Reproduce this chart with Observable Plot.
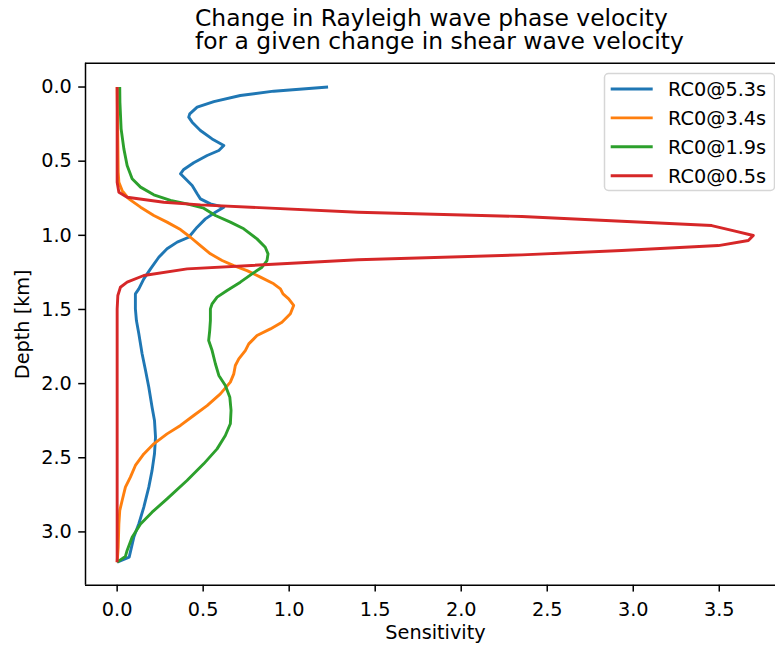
<!DOCTYPE html>
<html>
<head>
<meta charset="utf-8">
<script src="https://cdn.jsdelivr.net/npm/d3@7"></script>
<script src="https://cdn.jsdelivr.net/npm/@observablehq/plot@0.6"></script>
<style>
  html, body { margin: 0; padding: 0; background: #fff; overflow: hidden; }
  #wrap { position: relative; width: 775px; height: 648px; overflow: hidden; }
  #title { position: absolute; left: 195px; top: 6.5px; font-family: "DejaVu Sans"; font-size: 23.4px; line-height: 23px; white-space: pre; color: #000; }
  #chart { position: absolute; left: 0; top: 0; }
  #legend { position: absolute; left: 0; top: 0; }
</style>
</head>
<body>
<div id="wrap">
  <div id="chart"></div>
  <div id="title"></div>
  <div id="legend"></div>
</div>
<script>
// ---- data ----
const titleLines = ["Change in Rayleigh wave phase velocity", "for a given change in shear wave velocity"];
const xLabel = "Sensitivity";
const yLabel = "Depth [km]";
const seriesNames = ["RC0@5.3s", "RC0@3.4s", "RC0@1.9s", "RC0@0.5s"];
const seriesColors = ["#1f77b4", "#ff7f0e", "#2ca02c", "#d62728"];
const xTicks = [0, 0.5, 1.0, 1.5, 2.0, 2.5, 3.0, 3.5];
const yTicks = [0, 0.5, 1.0, 1.5, 2.0, 2.5, 3.0];

// RC0@5.3s
const depth53 = [0.0, 0.028, 0.057, 0.098, 0.136, 0.181, 0.203, 0.237, 0.293, 0.350, 0.394, 0.428, 0.462, 0.511, 0.556, 0.585, 0.619, 0.664, 0.720, 0.754, 0.788, 0.810, 0.844, 0.889, 0.945, 1.013, 1.046, 1.091, 1.148, 1.226, 1.294, 1.361, 1.395, 1.496, 1.575, 1.664, 1.799, 1.911, 2.024, 2.159, 2.248, 2.361, 2.473, 2.585, 2.698, 2.833, 2.945, 3.035, 3.170, 3.204];
const sens53  = [1.226, 0.910, 0.716, 0.562, 0.465, 0.422, 0.416, 0.436, 0.484, 0.552, 0.620, 0.591, 0.523, 0.445, 0.387, 0.368, 0.397, 0.436, 0.465, 0.484, 0.542, 0.620, 0.571, 0.513, 0.465, 0.416, 0.349, 0.290, 0.242, 0.194, 0.155, 0.126, 0.106, 0.106, 0.112, 0.126, 0.145, 0.165, 0.184, 0.203, 0.217, 0.223, 0.217, 0.203, 0.184, 0.155, 0.126, 0.097, 0.070, 0.0];

// RC0@3.4s
const depth34 = [0.0, 0.372, 0.574, 0.642, 0.698, 0.754, 0.810, 0.866, 0.911, 0.961, 1.013, 1.069, 1.125, 1.170, 1.204, 1.238, 1.282, 1.327, 1.361, 1.395, 1.428, 1.473, 1.529, 1.586, 1.631, 1.676, 1.732, 1.777, 1.833, 1.878, 1.934, 1.990, 2.069, 2.148, 2.215, 2.282, 2.339, 2.406, 2.474, 2.552, 2.631, 2.698, 2.788, 2.856, 2.946, 3.104, 3.204];
const sens34  = [0.0, 0.004, 0.006, 0.010, 0.029, 0.068, 0.136, 0.213, 0.290, 0.368, 0.426, 0.484, 0.542, 0.610, 0.678, 0.755, 0.833, 0.910, 0.949, 0.964, 0.997, 1.026, 1.007, 0.958, 0.891, 0.813, 0.765, 0.745, 0.707, 0.687, 0.678, 0.658, 0.600, 0.523, 0.445, 0.368, 0.290, 0.213, 0.155, 0.106, 0.077, 0.048, 0.029, 0.015, 0.010, 0.006, 0.0];

// RC0@1.9s
const depth19 = [0.0, 0.102, 0.282, 0.417, 0.529, 0.619, 0.675, 0.727, 0.765, 0.788, 0.817, 0.866, 0.911, 0.956, 1.024, 1.080, 1.125, 1.170, 1.215, 1.260, 1.316, 1.372, 1.417, 1.462, 1.496, 1.575, 1.642, 1.709, 1.777, 1.866, 1.945, 2.013, 2.092, 2.181, 2.271, 2.350, 2.440, 2.541, 2.653, 2.777, 2.867, 2.946, 3.036, 3.125, 3.165, 3.204];
const sens19  = [0.015, 0.016, 0.023, 0.039, 0.058, 0.087, 0.136, 0.213, 0.310, 0.406, 0.503, 0.571, 0.658, 0.736, 0.813, 0.861, 0.877, 0.871, 0.842, 0.784, 0.716, 0.639, 0.581, 0.552, 0.542, 0.542, 0.538, 0.532, 0.552, 0.571, 0.591, 0.629, 0.655, 0.662, 0.658, 0.629, 0.581, 0.503, 0.406, 0.290, 0.203, 0.136, 0.087, 0.058, 0.048, 0.0];

// RC0@0.5s
const depth05 = [0.0, 0.642, 0.709, 0.743, 0.777, 0.795, 0.844, 0.873, 0.905, 0.934, 0.972, 1.001, 1.035, 1.069, 1.102, 1.132, 1.165, 1.226, 1.271, 1.316, 1.350, 1.406, 1.496, 3.204];
const sens05  = [0.0, 0.0, 0.010, 0.058, 0.271, 0.484, 1.400, 2.353, 2.933, 3.456, 3.592, 3.698, 3.669, 3.495, 2.933, 2.353, 1.400, 0.407, 0.155, 0.058, 0.019, 0.004, 0.0, 0.0];

const depthArrays = [depth53, depth34, depth19, depth05];
const sensArrays = [sens53, sens34, sens19, sens05];

// ---- table built from the arrays ----
const rows = [];
seriesNames.forEach((name, i) => {
  depthArrays[i].forEach((d, j) => rows.push({series: name, depth: d, sens: sensArrays[i][j]}));
});

const W = 775, H = 648;
const xDomain = [-0.184, 3.885];
const yDomain = [-0.16, 3.36];
const fmt = d3.format(".1f");

const chart = Plot.plot({
  width: W,
  height: H,
  marginLeft: 85,
  marginRight: -10,
  marginTop: 62.8,
  marginBottom: 63.2,
  style: {fontFamily: "DejaVu Sans", fontSize: "19.3px", color: "#000", background: "transparent", overflow: "hidden"},
  x: {domain: xDomain},
  y: {domain: yDomain, reverse: true},
  color: {domain: seriesNames, range: seriesColors},
  marks: [
    Plot.line(rows, {x: "sens", y: "depth", z: "series", stroke: "series", strokeWidth: 2.9, strokeLinejoin: "round", strokeLinecap: "butt"}),
    Plot.ruleX([xDomain[0]], {stroke: "#000", strokeWidth: 1.5}),
    Plot.ruleY(yDomain, {stroke: "#000", strokeWidth: 1.5}),
    Plot.axisX({ticks: xTicks, tickFormat: fmt, tickSize: 6.8, tickPadding: 10, strokeWidth: 1.5,
      label: xLabel, labelAnchor: "center", labelOffset: 54, labelArrow: "none"}),
    Plot.axisY({ticks: yTicks, tickFormat: fmt, tickSize: 6.8, tickPadding: 6.8, strokeWidth: 1.5,
      label: yLabel, labelAnchor: "center", labelOffset: 70, labelArrow: "none"})
  ]
});
document.getElementById("chart").appendChild(chart);

// ---- title ----
document.getElementById("title").textContent = titleLines.join("\n");

// ---- legend (matplotlib-style framed box with line handles) ----
const lg = d3.select("#legend").append("svg")
  .attr("width", W).attr("height", H)
  .style("font-family", "DejaVu Sans").style("font-size", "19.3px");
lg.append("rect")
  .attr("x", 604.5).attr("y", 73.5).attr("width", 170).attr("height", 117)
  .attr("rx", 4).attr("ry", 4)
  .attr("fill", "rgba(255,255,255,0.8)").attr("stroke", "rgba(204,204,204,0.8)").attr("stroke-width", 1.5);
const entryY = [89, 117.9, 146.8, 175.7];
seriesNames.forEach((name, i) => {
  lg.append("line").attr("x1", 610.7).attr("x2", 652.7).attr("y1", entryY[i]).attr("y2", entryY[i])
    .attr("stroke", seriesColors[i]).attr("stroke-width", 2.9);
  lg.append("text").attr("x", 668).attr("y", entryY[i] + 7).attr("fill", "#000").text(name);
});
</script>
</body>
</html>
